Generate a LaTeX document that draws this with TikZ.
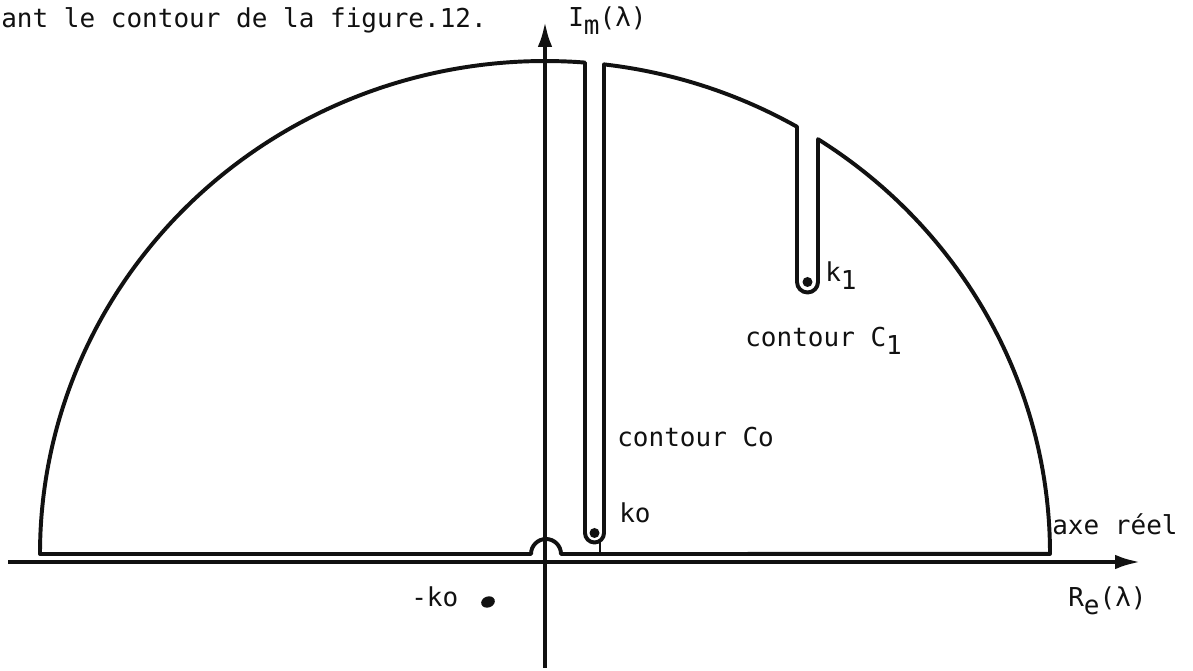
\documentclass[tikz,border=0pt]{standalone}
\usepackage{fontspec}
\usepackage{xcolor}
\usepackage{tikz}
\usetikzlibrary{arrows.meta}
\setmonofont{DejaVu Sans Mono}
\definecolor{FigInk}{HTML}{111111}
\definecolor{FigPaper}{HTML}{FFFFFF}
\newcommand\figfont{\fontsize{18.5pt}{20pt}\selectfont\ttfamily}
\newcommand\lowidx[1]{\raisebox{-.55ex}{#1}}

\begin{document}
\begin{tikzpicture}[x=0.025cm,y=0.025cm,
  axe/.style={FigInk,line width=2.5pt,-{Latex[length=0.62cm,width=0.36cm]}},
  contour/.style={FigInk,line width=2.8pt,line join=round},
  pole/.style={FigInk,fill=FigInk},
  lbl/.style={anchor=base west,inner sep=0pt,text=FigInk,font=\figfont}]
\path[use as bounding box] (0,0) rectangle (1193,671);
\fill[FigPaper] (0,0) rectangle (1193,671);
\coordinate (reW) at (8,109);
\coordinate (reE) at (1140,109);
\coordinate (imS) at (545,3);
\coordinate (imN) at (545,649);
\draw[axe] (reW) -- (reE);
\draw[axe] (imS) -- (imN);
\draw[contour] (40,117)
  arc[start angle=180,end angle=85.457,x radius=505,y radius=493]
  -- (585,138) arc[start angle=180,end angle=360,radius=9.5]
  -- (604,606.6)
  arc[start angle=83.291,end angle=60.066,x radius=505,y radius=493]
  -- (797,389) arc[start angle=180,end angle=360,radius=10.5]
  -- (818,531.8)
  arc[start angle=57.275,end angle=0,x radius=505,y radius=493]
  -- (561,117) arc[start angle=0,end angle=180,radius=15]
  -- cycle;
\draw[FigInk,line width=1.6pt] (600,130) -- (600,117);
\fill[pole] (594.5,138) circle (5);
\fill[pole] (807.5,389) circle (5);
\fill[pole,rotate around={20:(488,69)}] (488,69) ellipse (7 and 5.5);
\node[lbl] (titre) at (1,643) {ant le contour de la figure.12.};
\node[lbl] (imlbl) at (568,644) {I\lowidx{m}(λ)};
\node[lbl] (relbl) at (1068,64) {R\lowidx{e}(λ)};
\node[lbl] (axelbl) at (1052,136) {axe réel};
\node[lbl] (kun) at (825,389) {k\lowidx{1}};
\node[lbl] (cun) at (745,324) {contour C\lowidx{1}};
\node[lbl] (czero) at (617,224) {contour Co};
\node[lbl] (kzero) at (619,148) {ko};
\node[lbl] (mkzero) at (411,64) {-ko};
\end{tikzpicture}
\end{document}
